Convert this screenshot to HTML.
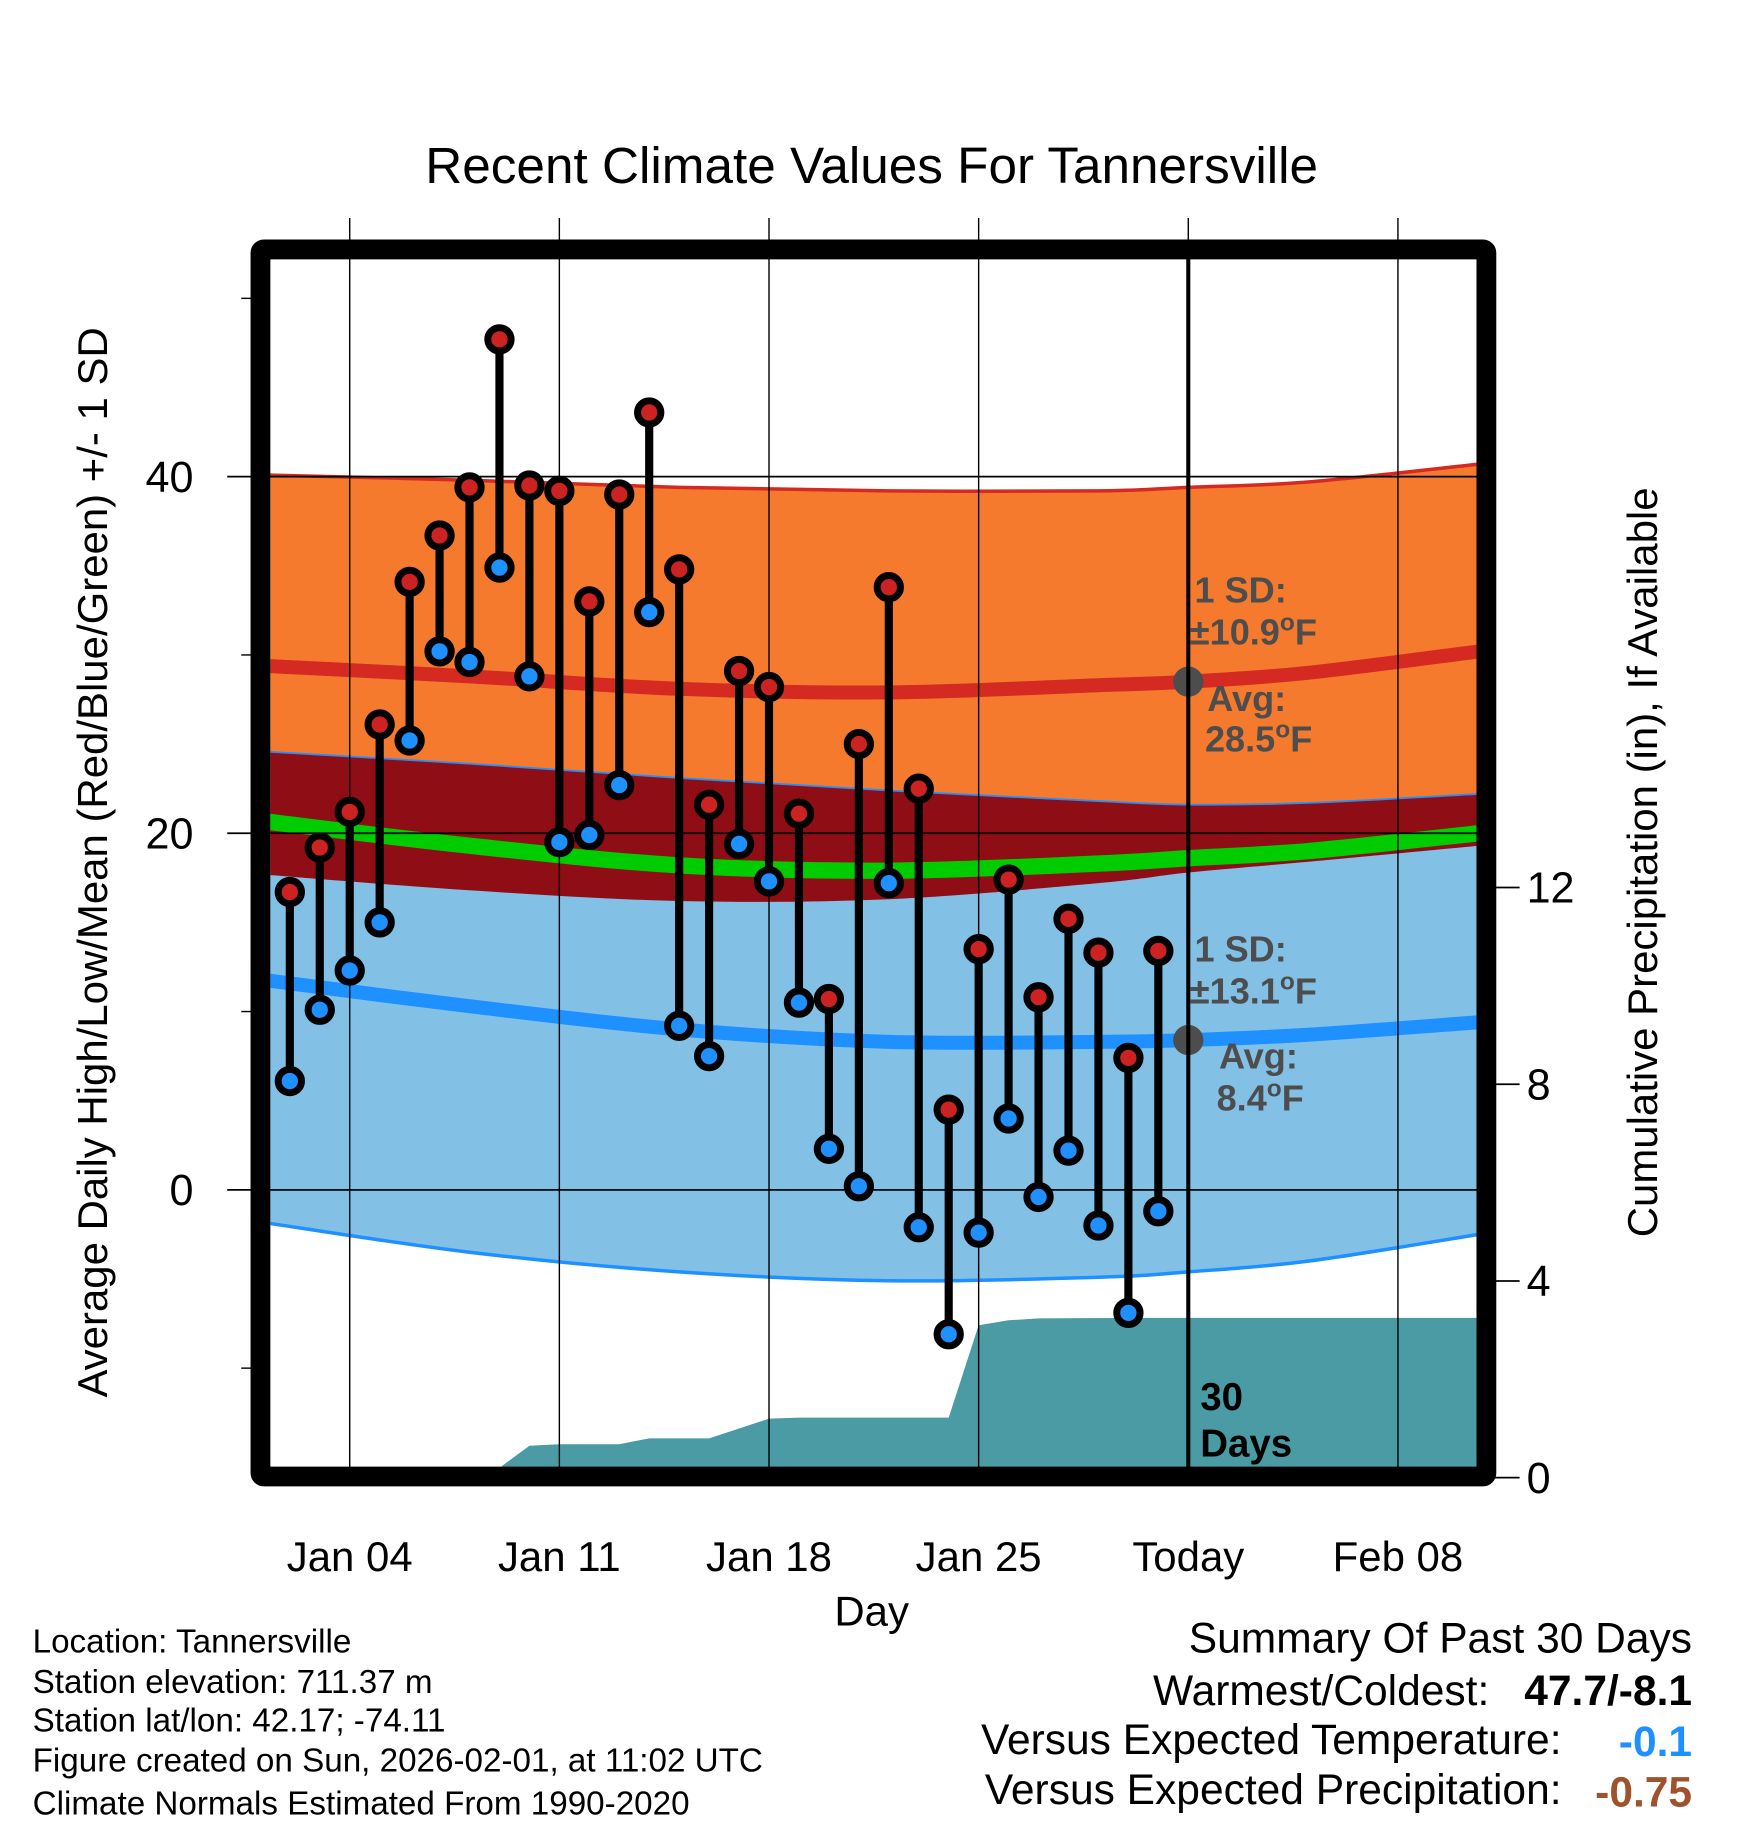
<!DOCTYPE html>
<html><head><meta charset="utf-8"><style>html,body{margin:0;padding:0;background:#fff}svg{display:block;font-family:"Liberation Sans",Arial,sans-serif}</style></head>
<body>
<svg id="chart" width="1748" height="1828" viewBox="0 0 1500 1568.6" xmlns="http://www.w3.org/2000/svg">
<rect width="1500" height="1568.6" fill="#fff"/>
<g id="bands"></g>
<g id="grid"></g>
<g id="marks"></g>
<g id="frame"></g>
<g id="labels"></g>
</svg>
<script>
// ---- data ----
const days = [2,3,4,5,6,7,8,9,10,11,12,13,14,15,16,17,18,19,20,21,22,23,24,25,26,27,28,29,30,31];
const highs = [16.7,19.2,21.2,26.1,34.1,36.7,39.4,47.7,39.5,39.2,33.0,39.0,43.6,34.8,21.6,29.1,28.2,21.1,10.7,25.0,33.8,22.5,4.5,13.5,17.4,10.8,15.2,13.3,7.4,13.4];
const lows = [6.1,10.1,12.3,15.0,25.2,30.2,29.6,34.9,28.8,19.5,19.9,22.7,32.4,9.2,7.5,19.4,17.3,10.5,2.3,0.2,17.2,-2.1,-8.1,-2.4,4.0,-0.4,2.2,-2.0,-6.9,-1.2];
const normDays = [1,8,15,22,29,32,36,41.7];
const normHigh = [29.4,28.8,28.1,27.9,28.3,28.5,29.0,30.2];
const normHighUpper = [40.1,39.8,39.4,39.2,39.2,39.4,39.7,40.7];
const normHighLower = [24.6,23.9,23.1,22.4,21.8,21.6,21.7,22.2];
const normLow = [11.8,10.3,9.0,8.3,8.3,8.4,8.7,9.4];
const normLowUpper = [17.7,16.8,16.2,16.3,17.2,17.8,18.4,19.3];
const normLowLower = [-1.8,-3.5,-4.6,-5.1,-4.9,-4.6,-4.0,-2.5];
const normMean = [20.7,19.3,18.2,17.9,18.3,18.6,19.0,20.0];
const precipDays = [1,6,7,8,9,10,11,13,14,16,17,18,19,24,25,26,27,31,41.7];
const precipVals = [0,0,0.02,0.05,0.2,0.65,0.68,0.68,0.8,0.8,1.0,1.2,1.22,1.22,3.1,3.2,3.24,3.25,3.25];
const xTickDays = [4,11,18,25,32,39];
const xTickLabels = ["Jan 04","Jan 11","Jan 18","Jan 25","Today","Feb 08"];
const yTicks = [0,20,40];
const yMinor = [-10,10,30,50];
const pTicks = [0,4,8,12];

// ---- axes ----
const X = d => 223 + (d - 1) * 25.7;
const Y = v => 1021 - v * 15.3;
const P = v => 1268 - v * 42.2;
const L = 232, R = 1267, T = 222, B = 1259;
const NS = "http://www.w3.org/2000/svg";
function mk(tag, attrs, parent, text) {
  const e = document.createElementNS(NS, tag);
  for (const k in attrs) e.setAttribute(k, attrs[k]);
  if (text !== undefined) e.textContent = text;
  parent.appendChild(e);
  return e;
}
const bands = document.getElementById('bands'), grid = document.getElementById('grid'),
      marks = document.getElementById('marks'), frame = document.getElementById('frame'),
      labels = document.getElementById('labels');

function series(f) { return normDays.map((d, i) => [X(d), Y(f(i))]); }
function smooth(pts) {
  let s = "M" + pts[0][0] + "," + pts[0][1];
  for (let i = 1; i < pts.length; i++) {
    const p0 = pts[Math.max(0, i - 2)], p1 = pts[i - 1], p2 = pts[i], p3 = pts[Math.min(pts.length - 1, i + 1)];
    const c1 = [p1[0] + (p2[0] - p0[0]) / 6, p1[1] + (p2[1] - p0[1]) / 6];
    const c2 = [p2[0] - (p3[0] - p1[0]) / 6, p2[1] - (p3[1] - p1[1]) / 6];
    s += " C" + c1 + " " + c2 + " " + p2;
  }
  return s;
}
function revPath(pts) { return smooth(pts.slice().reverse()).replace(/^M/, "L"); }
function band(top, bot, fill, name) {
  const p = mk('path', {d: smooth(top) + " " + revPath(bot) + " Z", fill: fill}, bands);
  
  
}
const hiTop = series(i => normHighUpper[i]);
const hiBot = series(i => normHighLower[i]);
const loTop = series(i => normLowUpper[i]);
const loBot = series(i => normLowLower[i]);
band(hiTop, hiBot, "#f57a2e", "high-sd-band");
band(hiBot, loBot, "#82c0e6", "low-sd-band");
band(hiBot, loTop, "#8f0d15", "overlap-band");
function line(pts, color, w, name) {
  const p = mk('path', {d: smooth(pts), fill: "none", stroke: color, "stroke-width": w}, bands);
  
  
}
line(hiTop, "#d42a22", 3, "high-plus-sd-line");
line(hiBot, "#1e90ff", 1.5, "high-minus-sd-line");
line(loBot, "#1e90ff", 3, "low-minus-sd-line");
line(series(i => normMean[i]), "#00cc00", 14, "mean-normal-line");
line(series(i => normHigh[i]), "#d42a22", 12, "high-normal-line");
line(series(i => normLow[i]), "#1e90ff", 12, "low-normal-line");

// precip area
{
  let d = "M" + X(precipDays[0]) + "," + P(0);
  precipDays.forEach((pd, i) => { d += " L" + X(pd) + "," + P(precipVals[i]); });
  d += " L" + X(precipDays[precipDays.length - 1]) + "," + P(0) + " Z";
  const p = mk('path', {d: d, fill: "#4a9ba4"}, bands);
  
  
}
// clip
mk('rect', {x: 0, y: 0, width: L, height: 1300, fill: "#fff"}, bands);
mk('rect', {x: R, y: 0, width: 240, height: 1300, fill: "#fff"}, bands);

// grid
xTickDays.forEach((d, i) => {
  const g = mk('line', {x1: X(d), x2: X(d), y1: 187, y2: B, stroke: "#000", "stroke-width": 1.2}, grid);
  
  
  const t = mk('text', {x: X(d), y: 1348, "font-size": 36, "text-anchor": "middle"}, labels, xTickLabels[i]);
  
  
});
yTicks.forEach(v => {
  const g = mk('line', {x1: 195, x2: R, y1: Y(v), y2: Y(v), stroke: "#000", "stroke-width": 1.5}, grid);
  
  
  const t = mk('text', {x: 166, y: Y(v) + 13, "font-size": 37, "text-anchor": "end"}, labels, String(v));
  
  
});
yMinor.forEach(v => { mk('line', {x1: 207, x2: 217, y1: Y(v), y2: Y(v), stroke: "#000", "stroke-width": 1.2}, grid); });
pTicks.forEach(v => {
  mk('line', {x1: 1283, x2: 1304, y1: P(v), y2: P(v), stroke: "#000", "stroke-width": 1.5}, grid);
  const t = mk('text', {x: 1310, y: P(v) + 13, "font-size": 37}, labels, String(v));
  
  
});

// today line
{
  mk('circle', {cx: X(32), cy: Y(normHigh[5]), r: 13, fill: "#4d4d4d"}, marks);
  mk('circle', {cx: X(32), cy: Y(normLow[5]), r: 13, fill: "#4d4d4d"}, marks);
  const tl = mk('line', {x1: X(32), x2: X(32), y1: T, y2: B, stroke: "#000", "stroke-width": 3.5}, marks);
  
  
}

// bars
days.forEach((d, i) => {
  const g = mk('g', {}, marks);
  
  
  mk('line', {x1: X(d), x2: X(d), y1: Y(highs[i]), y2: Y(lows[i]), stroke: "#000", "stroke-width": 7}, g);
  const h = mk('circle', {cx: X(d), cy: Y(highs[i]), r: 10, fill: "#cc2222", stroke: "#000", "stroke-width": 6}, g);
  
  
  const l = mk('circle', {cx: X(d), cy: Y(lows[i]), r: 10, fill: "#1e90ff", stroke: "#000", "stroke-width": 6}, g);
  
  
});

// frame
{
  const f = mk('rect', {x: 223.5, y: 214, width: 1052, height: 1053, fill: "none", stroke: "#000", "stroke-width": 17, rx: 3}, frame);
  
  
}
</script>
<script>
(function(){
const NS = "http://www.w3.org/2000/svg";
const labels = document.getElementById('labels');
function txt(x, y, s, attrs, name) {
  const e = document.createElementNS(NS, 'text');
  e.setAttribute('x', x); e.setAttribute('y', y);
  for (const k in attrs) e.setAttribute(k, attrs[k]);
  e.innerHTML = s;
  
  
  labels.appendChild(e);
}
const g = {fill: "#4d4d4d", "font-size": 31, "font-weight": "bold"};
const deg = "<tspan dy='-12' font-size='21'>o</tspan><tspan dy='12'>F</tspan>";
txt(748, 157, "Recent Climate Values For Tannersville", {"font-size": 44, "text-anchor": "middle"}, "chart-title");
txt(1025, 517, "1 SD:", g, "high-sd-label");
txt(1021, 553, "±10.9" + deg, g, "high-sd-value");
txt(1036, 610, "Avg:", g, "high-avg-label");
txt(1034, 645, "28.5" + deg, g, "high-avg-value");
txt(1025, 825, "1 SD:", g, "low-sd-label");
txt(1021, 861, "±13.1" + deg, g, "low-sd-value");
txt(1046, 917, "Avg:", g, "low-avg-label");
txt(1044, 953, "8.4" + deg, g, "low-avg-value");
txt(1030, 1210, "30", {"font-size": 33, "font-weight": "bold"}, "days-count");
txt(1030, 1250, "Days", {"font-size": 33, "font-weight": "bold"}, "days-label");
txt(748, 1395, "Day", {"font-size": 36, "text-anchor": "middle"}, "x-axis-title");
txt(0, 0, "Average Daily High/Low/Mean (Red/Blue/Green) +/- 1 SD", {"font-size": 36, "text-anchor": "middle", transform: "translate(92,740) rotate(-90)"}, "y-axis-title");
txt(0, 0, "Cumulative Precipitation (in), If Available", {"font-size": 36, "text-anchor": "middle", transform: "translate(1422,740) rotate(-90)"}, "precip-axis-title");
const info = ["Location: Tannersville","Station elevation: 711.37 m","Station lat/lon: 42.17; -74.11","Figure created on Sun, 2026-02-01, at 11:02 UTC","Climate Normals Estimated From 1990-2020"];
const ys = [1418,1453,1486,1520,1557];
info.forEach((s, i) => txt(28, ys[i], s, {"font-size": 28.5}, "station-info-line"));
txt(1452, 1418, "Summary Of Past 30 Days", {"font-size": 36.5, "text-anchor": "end"}, "summary-title");
txt(1278, 1463, "Warmest/Coldest:", {"font-size": 36.5, "text-anchor": "end"}, "warmest-coldest-label");
txt(1452, 1463, "47.7/-8.1", {"font-size": 36.5, "text-anchor": "end", "font-weight": "bold"}, "warmest-coldest-value");
txt(1340, 1505, "Versus Expected Temperature:", {"font-size": 36.5, "text-anchor": "end"}, "temp-anomaly-label");
txt(1452, 1507, "-0.1", {"font-size": 36.5, "text-anchor": "end", "font-weight": "bold", fill: "#1e90ff"}, "temp-anomaly-value");
txt(1340, 1548, "Versus Expected Precipitation:", {"font-size": 36.5, "text-anchor": "end"}, "precip-anomaly-label");
txt(1452, 1550, "-0.75", {"font-size": 36.5, "text-anchor": "end", "font-weight": "bold", fill: "#a0522d"}, "precip-anomaly-value");
})();
</script>
</body></html>
